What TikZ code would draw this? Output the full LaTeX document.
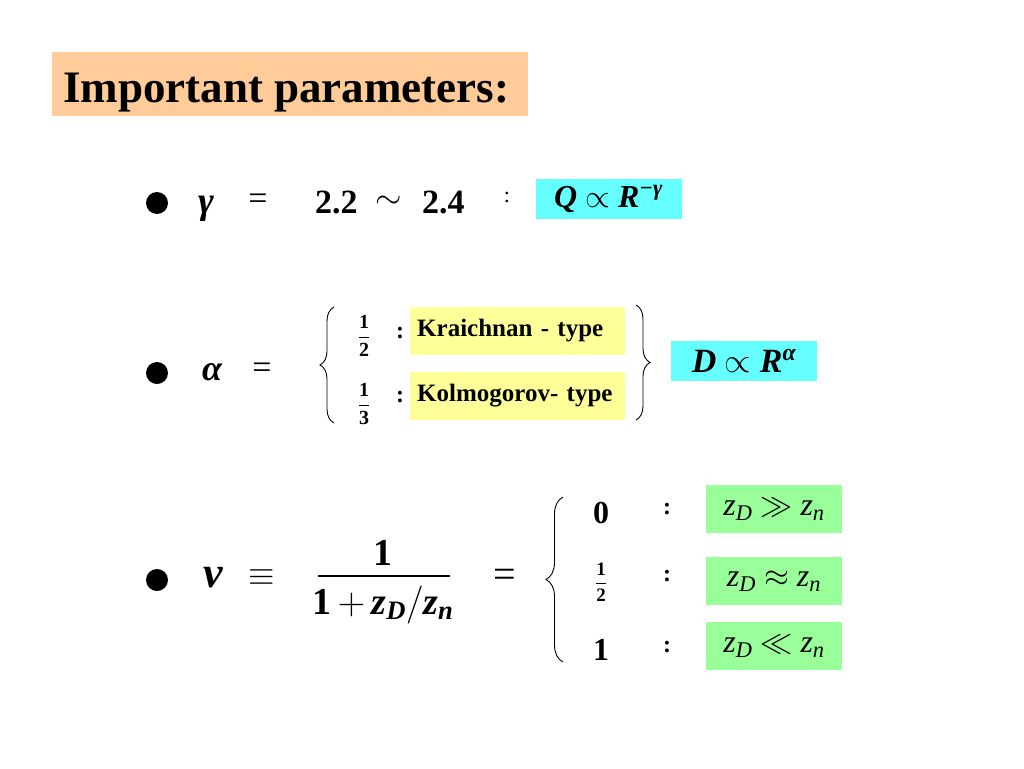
\documentclass[tikz,border=0pt]{standalone}
\usepackage{fix-cm}
\usepackage{fontspec}
\setmainfont{Liberation Serif}
\usetikzlibrary{decorations.pathreplacing}
\definecolor{peach}{HTML}{FFCC99}
\definecolor{skycyan}{HTML}{66FFFF}
\definecolor{paleyellow}{HTML}{FFFF99}
\definecolor{palegreen}{HTML}{99FF99}
\newcommand{\fsz}[1]{\fontsize{#1}{#1}\selectfont}
\newcommand{\bi}[1]{\textbf{\textit{#1}}}
\newcommand{\fr}[2]{$\displaystyle\frac{\mbox{#1}}{\mbox{#2}}$}
\tikzset{
  dot/.style={circle, fill=black, inner sep=0pt, minimum size=22},
  sym/.style={inner sep=0pt, font=\fsz{34}},
  colon/.style={inner sep=0pt, font=\fsz{24}\bfseries},
  lawbox/.style={fill=skycyan, inner sep=0pt, minimum width=146, minimum height=40, font=\fsz{32}\bfseries\itshape},
  typebox/.style={fill=paleyellow, anchor=west, inner xsep=7, inner ysep=0pt, text width=201, minimum height=48, align=left, font=\fsz{25}\bfseries},
  casebox/.style={fill=palegreen, inner sep=0pt, minimum width=136, minimum height=48, font=\fsz{32}\itshape},
  curly/.style={decorate, decoration={brace, amplitude=#1}, line width=0.9},
}
\begin{document}
\begin{tikzpicture}[x=1pt, y=-1pt]
  \useasboundingbox (0,0) rectangle (1024,768);
  % title
  \node[fill=peach, anchor=north west, minimum width=476, minimum height=64, inner sep=0pt] (title) at (52,52) {};
  \node[anchor=base west, inner sep=0pt, font=\fsz{45}\bfseries] (ttext) at (63,102) {Important parameters:};

  % gamma row
  \node[dot] (b1) at (157,203) {};
  \node[sym, anchor=base, font=\fsz{38}\bfseries\itshape] (gam) at (206,213) {γ};
  \node[sym] (eq1) at (258,202) {=};
  \node[sym, anchor=base west, font=\fsz{34}\bfseries] (lo) at (315,213) {2.2};
  \node[sym] (tl) at (389,202) {$\sim$};
  \node[sym, anchor=base west, font=\fsz{34}\bfseries] (hi) at (422,213) {2.4};
  \node[inner sep=0pt, font=\fsz{22}] (c1) at (507,197) {:};
  \node[lawbox] (qlaw) at (608.5,199) {Q $\propto$ R\textsuperscript{−γ}};

  % alpha row
  \node[dot] (b2) at (157,373) {};
  \node[sym, font=\fsz{36}\bfseries\itshape] (alp) at (212,372) {α};
  \node[sym] (eq2) at (262,371) {=};
  \draw[curly=14] (334,423) -- (334,307);
  \node[inner sep=0pt, font=\fsz{20}\bfseries] (half) at (364,336) {\fr{1}{2}};
  \node[inner sep=0pt, font=\fsz{20}\bfseries] (third) at (364,404) {\fr{1}{3}};
  \node[colon] (c2) at (400,333) {:};
  \node[colon] (c3) at (400,397) {:};
  \node[typebox] (kr) at (410,331) {Kraichnan - type};
  \node[typebox] (ko) at (410,396) {Kolmogorov- type};
  \draw[curly=14] (636,305) -- (636,420);
  \node[lawbox, font=\fsz{34}\bfseries\itshape] (dlaw) at (744,361) {D $\propto$ R\textsuperscript{α}};

  % nu row
  \node[dot] (b3) at (157,580) {};
  \node[sym, font=\fsz{44}\bfseries\itshape] (nu) at (213,578) {ν};
  \node[sym, font=\fsz{34}] (eqv) at (262,578) {$\equiv$};
  \node[inner sep=0pt, font=\fsz{38}\bfseries] (num) at (383,553) {1};
  \draw[line width=1.4] (318,576) -- (450,576);
  \node[inner sep=0pt, anchor=base, font=\fsz{38}] (den) at (383,614) {\textbf{1}$\,+\,$\bi{z}\textsubscript{\bi{D}}$\big/$\bi{z}\textsubscript{\bi{n}}};
  \node[sym, font=\fsz{40}] (eq3) at (505,578) {=};
  \draw[curly=17] (563,662) -- (563,497);
  \node[inner sep=0pt, font=\fsz{32}\bfseries] (v0) at (601,513) {0};
  \node[inner sep=0pt, font=\fsz{19}\bfseries] (vh) at (601,582) {\fr{1}{2}};
  \node[inner sep=0pt, font=\fsz{32}\bfseries] (v1) at (601,650) {1};
  \node[colon] (c4) at (667,509) {:};
  \node[colon] (c5) at (667,576) {:};
  \node[colon] (c6) at (667,647) {:};
  \node[casebox] (much) at (774,509) {z\textsubscript{D} $\gg$ z\textsubscript{n}};
  \node[casebox] (near) at (774,581) {z\textsubscript{D} $\approx$ z\textsubscript{n}};
  \node[casebox] (less) at (774,646) {z\textsubscript{D} $\ll$ z\textsubscript{n}};
\end{tikzpicture}
\end{document}
